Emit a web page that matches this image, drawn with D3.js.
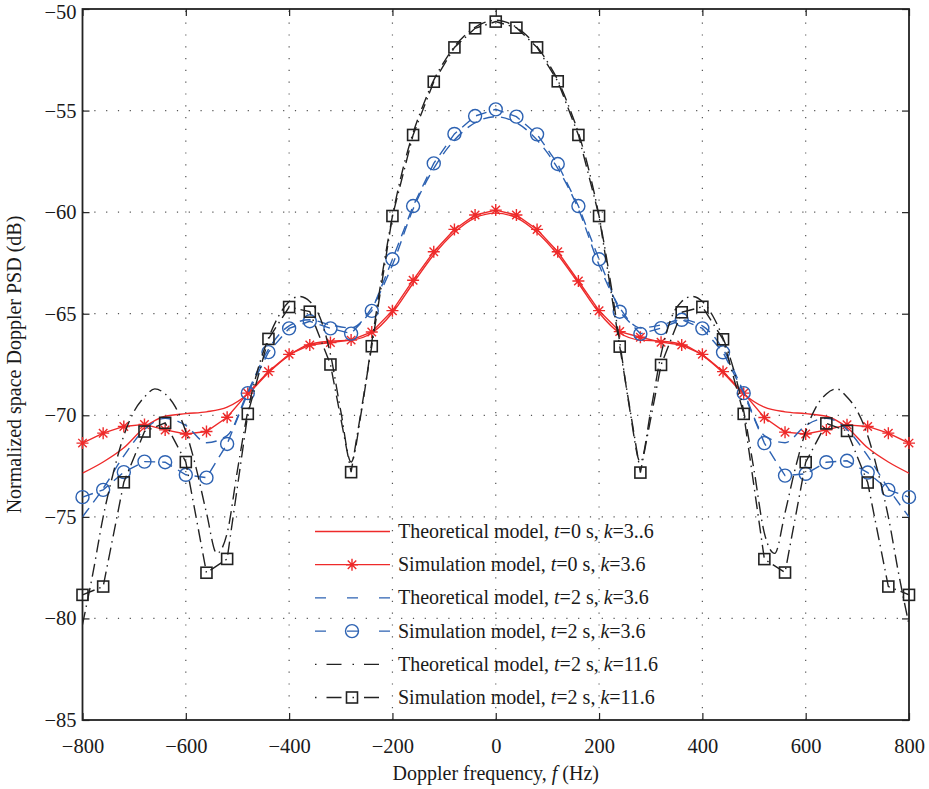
<!DOCTYPE html>
<html>
<head>
<meta charset="utf-8">
<script src="https://cdnjs.cloudflare.com/ajax/libs/d3/7.8.5/d3.min.js"></script>
<style>
  body { margin: 0; background: #fff; }
  svg text { font-family: 'Liberation Serif', 'Times New Roman', serif; fill: #1a1a1a; }
</style>
</head>
<body>
<svg id="chart" width="929" height="789"></svg>
<script>

// Doppler frequency (Hz) of the simulation points, one every 40 Hz.
var freqSim = [-800, -760, -720, -680, -640, -600, -560, -520, -480, -440, -400,
  -360, -320, -280, -240, -200, -160, -120, -80, -40, 0, 40, 80, 120, 160, 200,
  240, 280, 320, 360, 400, 440, 480, 520, 560, 600, 640, 680, 720, 760, 800];

// Frequency grid (Hz) the theoretical k=11.6 curve was read on, one every 20 Hz.
var freqFine = [-800, -780, -760, -740, -720, -700, -680, -660, -640, -620, -600,
  -580, -560, -540, -520, -500, -480, -460, -440, -420, -400, -380, -360, -340,
  -320, -300, -280, -260, -240, -220, -200, -180, -160, -140, -120, -100, -80,
  -60, -40, -20, 0, 20, 40, 60, 80, 100, 120, 140, 160, 180, 200, 220, 240, 260,
  280, 300, 320, 340, 360, 380, 400, 420, 440, 460, 480, 500, 520, 540, 560, 580,
  600, 620, 640, 660, 680, 700, 720, 740, 760, 780, 800];

// Theoretical model, t=0 s, k=3.6 (dB, on freqSim).
var theoryT0 = [-72.85, -72.3, -71.6, -70.6, -70.05, -69.92, -69.83, -69.6, -68.95,
  -67.9, -67.05, -66.5, -66.35, -66.3, -65.95, -64.95, -63.5, -62.1, -61.0, -60.28,
  -60.05, -60.28, -61.0, -62.1, -63.5, -64.95, -65.95, -66.3, -66.35, -66.5, -67.05,
  -67.9, -68.95, -69.6, -69.83, -69.92, -70.05, -70.6, -71.6, -72.3, -72.85];

// Simulation model, t=0 s, k=3.6.
var simT0 = [-71.37, -70.88, -70.55, -70.45, -70.72, -70.92, -70.8, -70.1, -68.91,
  -67.85, -67.0, -66.54, -66.42, -66.3, -65.9, -64.85, -63.35, -61.95, -60.85,
  -60.14, -59.9, -60.14, -60.85, -61.95, -63.39, -64.85, -65.88, -66.16, -66.4,
  -66.54, -67.0, -67.85, -68.91, -70.11, -70.83, -70.92, -70.72, -70.47, -70.55,
  -70.88, -71.37];

// Theoretical model, t=2 s, k=3.6 (on freqSim).
var theoryT2k3 = [-75.0, -73.6, -72.0, -70.7, -70.15, -70.5, -71.35, -71.0, -68.85,
  -66.75, -65.6, -65.3, -65.55, -65.7, -64.7, -62.6, -59.85, -57.85, -56.45, -55.6,
  -55.3, -55.6, -56.45, -57.85, -59.85, -62.6, -64.7, -65.7, -65.55, -65.3, -65.6,
  -66.75, -68.85, -71.0, -71.35, -70.5, -70.15, -70.7, -72.0, -73.6, -75.0];

// Simulation model, t=2 s, k=3.6.
var simT2k3 = [-74.03, -73.67, -72.8, -72.28, -72.31, -72.93, -73.07, -71.41, -68.91,
  -66.89, -65.72, -65.37, -65.72, -65.98, -64.86, -62.32, -59.7, -57.6, -56.15,
  -55.27, -54.94, -55.3, -56.17, -57.63, -59.7, -62.32, -64.9, -65.99, -65.71, -65.3,
  -65.72, -66.9, -68.91, -71.37, -72.97, -72.88, -72.31, -72.24, -72.82, -73.67,
  -74.03];

// Theoretical model, t=2 s, k=11.6 (on freqFine).
var theoryT2k11 = [-80.3, -77.8, -75.0, -72.8, -71.0, -69.8, -69.1, -68.7, -68.95,
  -69.6, -70.8, -72.6, -74.8, -76.8, -75.8, -72.7, -69.8, -67.7, -66.2, -65.1, -64.4,
  -64.15, -64.4, -65.2, -67.0, -69.8, -72.3, -69.8, -66.4, -63.1, -60.2, -57.9,
  -56.1, -54.7, -53.5, -52.6, -51.85, -51.3, -50.9, -50.65, -50.55, -50.65, -50.9,
  -51.3, -51.85, -52.6, -53.5, -54.7, -56.1, -57.9, -60.2, -63.1, -66.4, -69.8,
  -72.3, -69.8, -67.0, -65.2, -64.4, -64.15, -64.4, -65.1, -66.2, -67.7, -69.8,
  -72.7, -75.8, -76.8, -74.8, -72.6, -70.8, -69.6, -68.95, -68.7, -69.1, -69.8,
  -71.0, -72.8, -75.0, -77.8, -80.3];

// Simulation model, t=2 s, k=11.6.
var simT2k11 = [-78.84, -78.43, -73.3, -70.8, -70.37, -72.3, -77.75, -77.07, -69.93,
  -66.24, -64.67, -64.9, -67.5, -72.8, -66.6, -60.19, -56.2, -53.58, -51.89, -50.95,
  -50.62, -50.92, -51.89, -53.56, -56.2, -60.19, -66.62, -72.82, -67.52, -64.93,
  -64.66, -66.26, -69.93, -77.08, -77.74, -72.31, -70.4, -70.77, -73.31, -78.43,
  -78.84];

// Tick values.
var xTicks = [-800, -600, -400, -200, 0, 200, 400, 600, 800];
var yTicks = [-85, -80, -75, -70, -65, -60, -55, -50];

// Legend text, split so t and k can be set in italics.
var legendLabels = [
  ['Theoretical model, ', 't', '=0 s, ', 'k', '=3..6'],
  ['Simulation model, ', 't', '=0 s, ', 'k', '=3.6'],
  ['Theoretical model, ', 't', '=2 s, ', 'k', '=3.6'],
  ['Simulation model, ', 't', '=2 s, ', 'k', '=3.6'],
  ['Theoretical model, ', 't', '=2 s, ', 'k', '=11.6'],
  ['Simulation model, ', 't', '=2 s, ', 'k', '=11.6']
];

// Namespace for the chart, psd for power spectral density.
var psd = {

  RED: '#ee2a2a',
  BLUE: '#2d62b2',
  BLACK: '#222222',

  DASH: '11,7',
  DASH_DOT: '13,5,1.5,5',

  x: d3.scaleLinear().domain([-800, 800]).range([82.5, 909]),
  y: d3.scaleLinear().domain([-85, -50]).range([720, 9]),

  /**
   * Build the figure: grid, axes, the six series and the legend.
   */
  init: function() {
    var svg = d3.select('#chart');

    psd.drawGrid(svg);
    psd.drawAxes(svg);

    svg.append('clipPath').attr('id', 'plotClip')
      .append('rect')
        .attr('x', psd.x(-800)).attr('y', psd.y(-50))
        .attr('width', psd.x(800) - psd.x(-800))
        .attr('height', psd.y(-85) - psd.y(-50));

    // Same order as the legend, so later series sit on top.
    var series = psd.seriesList();
    series.forEach(function(s) {
      psd.drawSeries(svg, s);
    });

    psd.drawLegend(svg, series);
  },

  /**
   * Description of each series: data, colour, dash and marker.
   */
  seriesList: function() {
    return [
      { f: freqSim, v: theoryT0, color: psd.RED, dash: null, marker: null, smooth: true },
      { f: freqSim, v: simT0, color: psd.RED, dash: null, marker: 'star', smooth: false },
      { f: freqSim, v: theoryT2k3, color: psd.BLUE, dash: psd.DASH, marker: null, smooth: true },
      { f: freqSim, v: simT2k3, color: psd.BLUE, dash: psd.DASH, marker: 'circle', smooth: false },
      { f: freqFine, v: theoryT2k11, color: psd.BLACK, dash: psd.DASH_DOT, marker: null, smooth: true },
      { f: freqSim, v: simT2k11, color: psd.BLACK, dash: psd.DASH_DOT, marker: 'square', smooth: false }
    ];
  },

  /**
   * Dotted grid lines at the inner ticks.
   */
  drawGrid: function(svg) {
    var g = svg.append('g').attr('class', 'grid')
      .attr('stroke', '#555').attr('stroke-width', 1.2)
      .attr('stroke-dasharray', '1.2,10.6');

    g.selectAll('line.v')
      .data(xTicks.slice(1, -1))
      .enter().append('line')
        .attr('class', 'v')
        .attr('x1', psd.x).attr('x2', psd.x)
        .attr('y1', psd.y(-85)).attr('y2', psd.y(-50));

    g.selectAll('line.h')
      .data(yTicks.slice(1, -1))
      .enter().append('line')
        .attr('class', 'h')
        .attr('y1', psd.y).attr('y2', psd.y)
        .attr('x1', psd.x(-800)).attr('x2', psd.x(800));
  },

  /**
   * Axes with inward ticks on all four sides, a frame and the titles.
   */
  drawAxes: function(svg) {
    var x = psd.x, y = psd.y;

    var bottom = svg.append('g')
      .attr('transform', 'translate(0,' + y(-85) + ')')
      .call(d3.axisBottom(x).tickValues(xTicks).tickSizeInner(-7)
        .tickSizeOuter(0).tickPadding(18));

    var left = svg.append('g')
      .attr('transform', 'translate(' + x(-800) + ',0)')
      .call(d3.axisLeft(y).tickValues(yTicks).tickSizeInner(-7)
        .tickSizeOuter(0).tickPadding(6));

    var top = svg.append('g')
      .attr('transform', 'translate(0,' + y(-50) + ')')
      .call(d3.axisTop(x).tickValues(xTicks).tickSizeInner(-7)
        .tickSizeOuter(0).tickFormat(''));

    var right = svg.append('g')
      .attr('transform', 'translate(' + x(800) + ',0)')
      .call(d3.axisRight(y).tickValues(yTicks).tickSizeInner(-7)
        .tickSizeOuter(0).tickFormat(''));

    [bottom, left, top, right].forEach(function(a) {
      a.select('.domain').remove();
      a.selectAll('.tick line').attr('stroke', '#222').attr('stroke-width', 1.2);
      a.selectAll('.tick text')
        .attr('font-family', "'Liberation Serif', 'Times New Roman', serif")
        .attr('font-size', 20.5).attr('fill', '#1a1a1a');
    });

    // Keep the top label inside the page.
    left.selectAll('.tick text')
      .filter(function(d) { return d === -50; })
      .attr('dy', '0.45em');

    // Frame around the plot area.
    svg.append('rect')
      .attr('x', x(-800)).attr('y', y(-50))
      .attr('width', x(800) - x(-800)).attr('height', y(-85) - y(-50))
      .attr('fill', 'none').attr('stroke', '#222').attr('stroke-width', 1.8);

    // Axis titles.
    var xt = svg.append('text')
      .attr('x', (x(-800) + x(800)) / 2).attr('y', 780)
      .attr('text-anchor', 'middle').attr('font-size', 20);
    xt.append('tspan').text('Doppler frequency, ');
    xt.append('tspan').attr('font-style', 'italic').text('f');
    xt.append('tspan').text(' (Hz)');

    svg.append('text')
      .attr('transform', 'translate(21,' + (y(-50) + y(-85)) / 2 + ') rotate(-90)')
      .attr('text-anchor', 'middle').attr('font-size', 20)
      .text('Normalized space Doppler PSD (dB)');
  },

  /**
   * Draw one series: the line, clipped to the axes, then its markers.
   */
  drawSeries: function(svg, s) {
    var pts = s.f.map(function(f, i) { return [f, s.v[i]]; });

    var line = d3.line()
      .x(function(d) { return psd.x(d[0]); })
      .y(function(d) { return psd.y(d[1]); })
      .curve(s.smooth ? d3.curveMonotoneX : d3.curveLinear);

    svg.append('path')
      .datum(pts)
      .attr('clip-path', 'url(#plotClip)')
      .attr('d', line)
      .attr('fill', 'none')
      .attr('stroke', s.color)
      .attr('stroke-width', 1.4)
      .attr('stroke-dasharray', s.dash);

    if (s.marker) {
      pts.forEach(function(d) {
        psd.drawMarker(svg, s.marker, psd.x(d[0]), psd.y(d[1]), s.color);
      });
    }
  },

  /**
   * Draw a hollow marker: star (asterisk), circle or square.
   */
  drawMarker: function(svg, type, cx, cy, color) {
    var g = svg.append('g')
      .attr('transform', 'translate(' + cx + ',' + cy + ')')
      .attr('fill', 'none').attr('stroke', color).attr('stroke-width', 1.4);

    if (type === 'star') {
      var r = 6, a = r * 0.707;
      g.append('path')
        .attr('d', 'M' + (-r) + ',0H' + r + 'M0,' + (-r) + 'V' + r +
          'M' + (-a) + ',' + (-a) + 'L' + a + ',' + a +
          'M' + (-a) + ',' + a + 'L' + a + ',' + (-a));
    } else if (type === 'circle') {
      g.append('circle').attr('r', 6.5);
    } else {
      g.append('rect')
        .attr('x', -5.5).attr('y', -5.5).attr('width', 11).attr('height', 11)
        .attr('stroke-width', 1.6);
    }
  },

  /**
   * Legend without a box, lying over the grid.
   */
  drawLegend: function(svg, series) {
    var x0 = 315, x1 = 390, xm = 352, xText = 398;
    var rowY = d3.scaleLinear().domain([0, 5]).range([531.5, 697.5]);

    // The legend samples use a longer spacing than the plotted lines.
    var sampleDash = [null, null, '11,21', '11,21', '1.5,10,15,11', '1.5,10,15,11'];

    series.forEach(function(s, i) {
      var yy = rowY(i);

      svg.append('line')
        .attr('x1', x0).attr('x2', x1).attr('y1', yy).attr('y2', yy)
        .attr('stroke', s.color).attr('stroke-width', 1.3)
        .attr('stroke-dasharray', sampleDash[i]);

      if (s.marker) {
        psd.drawMarker(svg, s.marker, xm, yy, s.color);
      }

      var t = svg.append('text')
        .attr('x', xText).attr('y', yy + 6.5).attr('font-size', 20);
      legendLabels[i].forEach(function(part, j) {
        t.append('tspan')
          .attr('font-style', j % 2 === 1 ? 'italic' : null)
          .text(part);
      });
    });
  }
};

// Draw the chart when this script loads.
psd.init();
</script>
</body>
</html>
